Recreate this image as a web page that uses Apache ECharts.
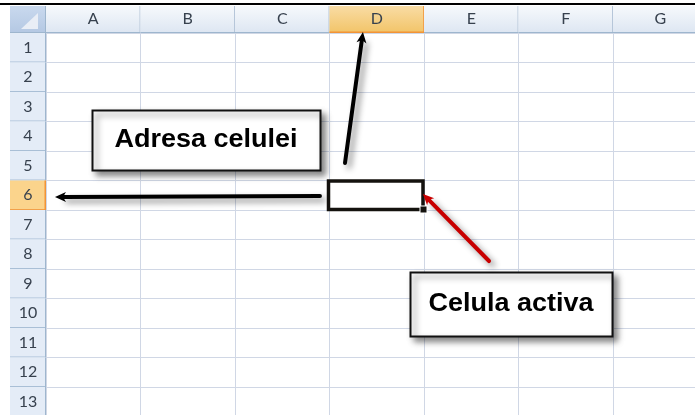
<!DOCTYPE html>
<html>
<head>
<meta charset="utf-8">
<script src="https://cdn.jsdelivr.net/npm/echarts@6/dist/echarts.min.js"></script>
<style>html,body{margin:0;padding:0;background:#fff;}#c{width:695px;height:415px;}</style>
</head>
<body>
<div id="c"></div>
<script>
// ---- data ----
const columns = ['A', 'B', 'C', 'D', 'E', 'F', 'G'];
const rows = ['1', '2', '3', '4', '5', '6', '7', '8', '9', '10', '11', '12', '13'];
const activeColumn = 'D';
const activeRow = '6';
const labelAddress = 'Adresa celulei';
const labelActive = 'Celula activa';

// ---- annotations (in cell units on hidden value axes) ----
const annotations = [
  { kind: 'box', x1: -0.013, y1: 2.11, x2: 2.399, y2: 4.144, text: labelAddress },
  { kind: 'box', x1: 3.352, y1: 7.602, x2: 5.489, y2: 9.771, text: labelActive },
  { kind: 'arrow', from: [2.664, 3.907], to: [2.854, -0.534], color: '#000000' },
  { kind: 'arrow', from: [2.399, 5.025], to: [-0.405, 5.059], color: '#000000' },
  { kind: 'arrow', from: [4.188, 7.229], to: [3.489, 4.958], color: '#c80000' }
];

const HEADER_H = 27, ROWHDR_W = 36;
const G = echarts.graphic;
const hdrGrad = () => new G.LinearGradient(0, 0, 0, 1, [{offset: 0, color: '#f6f9fc'}, {offset: 1, color: '#dde6f2'}]);
const actGrad = () => new G.LinearGradient(0, 0, 0, 1, [{offset: 0, color: '#f9dca4'}, {offset: 1, color: '#f2c468'}]);

const chart = echarts.init(document.getElementById('c'));

function renderColHeader(params, api) {
  const i = api.value(0);
  const p = api.coord([i, 0]);
  const s = api.size([1, 1]);
  const cs = params.coordSys;
  const x = p[0] - s[0] / 2, y = cs.y - HEADER_H;
  const act = columns[i] === activeColumn;
  return {
    type: 'group',
    children: [
      { type: 'rect', shape: {x: x, y: y, width: s[0], height: HEADER_H}, style: {fill: act ? actGrad() : hdrGrad()} },
      { type: 'line', shape: {x1: x + s[0] - 0.5, y1: y, x2: x + s[0] - 0.5, y2: y + HEADER_H}, style: {stroke: act ? '#f2a14a' : '#b6c6d9', lineWidth: 1} },
      { type: 'line', shape: {x1: x, y1: cs.y - 0.5, x2: x + s[0], y2: cs.y - 0.5}, style: {stroke: act ? '#f29436' : '#9eb6ce', lineWidth: act ? 2 : 1} }
    ]
  };
}

function renderRowHeader(params, api) {
  const r = api.value(1);
  const p = api.coord([0, r]);
  const s = api.size([1, 1]);
  const cs = params.coordSys;
  const x = cs.x - ROWHDR_W, y = p[1] - s[1] / 2;
  const act = rows[r] === activeRow;
  return {
    type: 'group',
    children: [
      { type: 'rect', shape: {x: x, y: y, width: ROWHDR_W, height: s[1]}, style: {fill: act ? '#fbd48c' : '#e4ecf7'} },
      { type: 'line', shape: {x1: x, y1: y + s[1] - 0.5, x2: x + ROWHDR_W, y2: y + s[1] - 0.5}, style: {stroke: act ? '#f2a14a' : '#a9bfd6', lineWidth: 1} },
      { type: 'line', shape: {x1: cs.x - 0.5, y1: y, x2: cs.x - 0.5, y2: y + s[1]}, style: {stroke: act ? '#f29436' : '#9eb6ce', lineWidth: act ? 2 : 1} }
    ]
  };
}

function renderCorner(params, api) {
  const cs = params.coordSys;
  const x = cs.x - ROWHDR_W, y = cs.y - HEADER_H;
  return {
    type: 'group',
    children: [
      { type: 'rect', shape: {x: x, y: y, width: ROWHDR_W, height: HEADER_H},
        style: {fill: new G.LinearGradient(0, 0, 0, 1, [{offset: 0, color: '#c9d9ee'}, {offset: 1, color: '#b4c8e3'}])} },
      { type: 'polygon', shape: {points: [[x + 28, y + 7], [x + 28, y + 23], [x + 11, y + 23]]}, style: {fill: '#e9eef6'} },
      { type: 'line', shape: {x1: x + ROWHDR_W - 0.5, y1: y, x2: x + ROWHDR_W - 0.5, y2: y + HEADER_H}, style: {stroke: '#9eb6ce'} },
      { type: 'line', shape: {x1: x, y1: cs.y - 0.5, x2: x + ROWHDR_W, y2: cs.y - 0.5}, style: {stroke: '#9eb6ce'} }
    ]
  };
}

function renderActiveCell(params, api) {
  const c = columns.indexOf(activeColumn), r = rows.indexOf(activeRow);
  const p = api.coord([c, r]);
  const s = api.size([1, 1]);
  const x = p[0] - s[0] / 2, y = p[1] - s[1] / 2;
  return {
    type: 'group',
    children: [
      { type: 'rect', shape: {x: x - 1, y: y + 0.5, width: s[0], height: s[1] - 1}, style: {fill: null, stroke: '#14120e', lineWidth: 3.5} },
      { type: 'rect', shape: {x: x + s[0] - 4, y: y + s[1] - 4, width: 7, height: 7}, style: {fill: '#14120e', stroke: '#ffffff', lineWidth: 1} }
    ]
  };
}

function renderAnnot(params, api) {
  const a = annotations[params.dataIndex];
  const shadow = {shadowBlur: 6, shadowOffsetX: 4, shadowOffsetY: 4, shadowColor: 'rgba(0,0,0,0.45)'};
  if (a.kind === 'box') {
    const p1 = api.coord([a.x1, a.y1]), p2 = api.coord([a.x2, a.y2]);
    return {
      type: 'group',
      children: [
        { type: 'rect', shape: {x: Math.round(p1[0]) + 0.5, y: Math.round(p1[1]) + 0.5, width: Math.round(p2[0] - p1[0]), height: Math.round(p2[1] - p1[1])},
          style: Object.assign({fill: '#ffffff', stroke: '#111111', lineWidth: 2}, shadow) },
        { type: 'text', x: (p1[0] + p2[0]) / 2, y: (p1[1] + p2[1]) / 2 + 0.5, scaleX: 1.08,
          style: {text: a.text, fill: '#000000', font: 'bold 25px "Liberation Sans", Arial, sans-serif', align: 'center', verticalAlign: 'middle'} }
      ]
    };
  }
  const p1 = api.coord(a.from), p2 = api.coord(a.to);
  const dx = p2[0] - p1[0], dy = p2[1] - p1[1];
  const L = Math.hypot(dx, dy), ux = dx / L, uy = dy / L;
  const hl = 11, hw = 5;
  const bx = p2[0] - ux * hl, by = p2[1] - uy * hl;
  const nx = -uy, ny = ux;
  return {
    type: 'group',
    children: [
      { type: 'line', shape: {x1: p1[0], y1: p1[1], x2: bx + ux * 3, y2: by + uy * 3},
        style: Object.assign({stroke: a.color, lineWidth: 4, lineCap: 'round'}, shadow) },
      { type: 'polygon', shape: {points: [[p2[0], p2[1]], [bx + nx * hw, by + ny * hw], [bx + ux * 3, by + uy * 3], [bx - nx * hw, by - ny * hw]]},
        style: {fill: a.color} }
    ]
  };
}

const option = {
  animation: false,
  backgroundColor: '#ffffff',
  graphic: [
    { type: 'rect', shape: {x: 0, y: 3, width: 695, height: 2}, style: {fill: '#000000'}, z: 100 }
  ],
  grid: { left: 46, top: 33, width: 661.5, height: 383.5, containLabel: false, outerBoundsMode: 'none' },
  xAxis: [
    { type: 'category', data: columns, position: 'top', boundaryGap: true, z: 3,
      axisLine: {show: false}, axisTick: {show: false},
      axisLabel: {show: true, interval: 0, margin: 6, color: '#37414e', fontSize: 16, fontFamily: 'Lato, "Open Sans", sans-serif'},
      splitLine: {show: true, interval: 0, lineStyle: {color: '#d0d7e5', width: 1}} },
    { type: 'value', min: -0.5, max: 6.5, show: false, position: 'bottom' }
  ],
  yAxis: [
    { type: 'category', data: rows, inverse: true, boundaryGap: true, z: 3,
      axisLine: {show: false}, axisTick: {show: false},
      axisLabel: {show: true, interval: 0, margin: 18, align: 'center', color: '#37414e', fontSize: 16, fontFamily: 'Lato, "Open Sans", sans-serif'},
      splitLine: {show: true, interval: 0, lineStyle: {color: '#d0d7e5', width: 1}} },
    { type: 'value', min: -0.5, max: 12.5, inverse: true, show: false, position: 'right' }
  ],
  series: [
    { type: 'custom', name: 'colHeaders', xAxisIndex: 0, yAxisIndex: 0, clip: false, z: 2, silent: true,
      renderItem: renderColHeader, data: columns.map((c, i) => [i, 0]) },
    { type: 'custom', name: 'rowHeaders', xAxisIndex: 0, yAxisIndex: 0, clip: false, z: 2, silent: true,
      renderItem: renderRowHeader, data: rows.map((r, i) => [0, i]) },
    { type: 'custom', name: 'corner', xAxisIndex: 0, yAxisIndex: 0, clip: false, z: 2, silent: true,
      renderItem: renderCorner, data: [[0, 0]] },
    { type: 'custom', name: 'activeCell', xAxisIndex: 0, yAxisIndex: 0, clip: false, z: 5, silent: true,
      renderItem: renderActiveCell, data: [[columns.indexOf(activeColumn), rows.indexOf(activeRow)]] },
    { type: 'custom', name: 'annotations', xAxisIndex: 1, yAxisIndex: 1, clip: false, z: 6, silent: true,
      renderItem: renderAnnot, data: annotations.map((a, i) => [0, 0]) }
  ]
};
chart.setOption(option);
</script>
</body>
</html>
